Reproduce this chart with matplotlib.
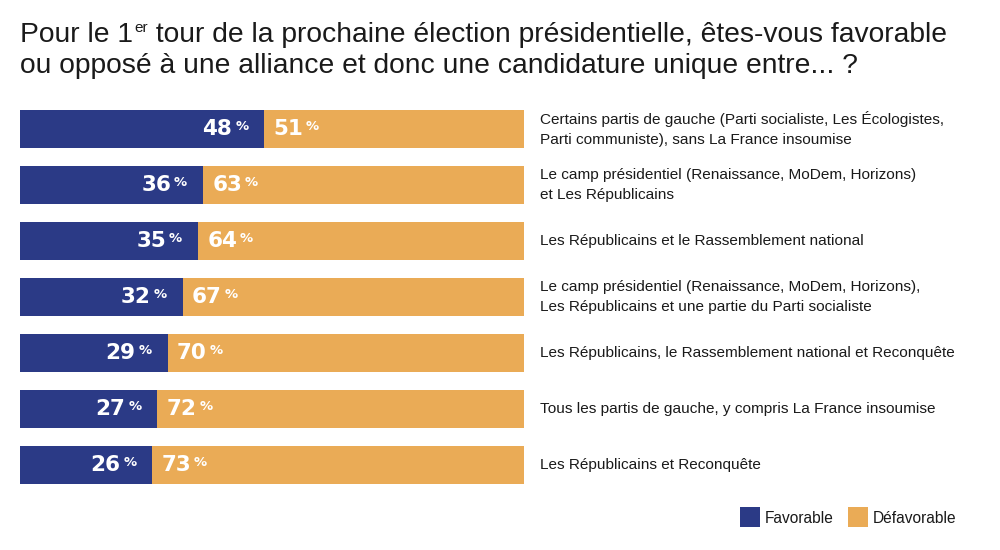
import matplotlib
matplotlib.use("Agg")
import matplotlib.pyplot as plt
from matplotlib.patches import Rectangle
from matplotlib import font_manager

names = sorted({f.name for f in font_manager.fontManager.ttflist})
NARROW = 'Liberation Sans Narrow' if 'Liberation Sans Narrow' in names else 'Liberation Sans'

categories = [
    "Certains partis de gauche (Parti socialiste, Les Écologistes,\nParti communiste), sans La France insoumise",
    "Le camp présidentiel (Renaissance, MoDem, Horizons)\net Les Républicains",
    "Les Républicains et le Rassemblement national",
    "Le camp présidentiel (Renaissance, MoDem, Horizons),\nLes Républicains et une partie du Parti socialiste",
    "Les Républicains, le Rassemblement national et Reconquête",
    "Tous les partis de gauche, y compris La France insoumise",
    "Les Républicains et Reconquête",
]
favorable = [48, 36, 35, 32, 29, 27, 26]
defavorable = [51, 63, 64, 67, 70, 72, 73]
series_names = ["Favorable", "Défavorable"]
title_parts = ["Pour le 1", "er", " tour de la prochaine élection présidentielle, êtes-vous favorable",
               "ou opposé à une alliance et donc une candidature unique entre... ?"]

BLUE = "#2b3a86"
ORANGE = "#eaab56"
TXT = "#1a1a1a"

W, H = 1000, 550
fig = plt.figure(figsize=(10, 5.5), dpi=100)
fig.patch.set_facecolor("white")
ax = fig.add_axes([20 / W, 1 - 493 / H, 504 / W, 392 / H])
ys = list(range(len(categories)))
ax.barh(ys, favorable, height=0.68, color=BLUE, linewidth=0)
ax.barh(ys, defavorable, left=favorable, height=0.68, color=ORANGE, linewidth=0)
ax.set_xlim(0, 99)
ax.set_ylim(len(categories) - 0.5, -0.5)
ax.axis("off")

numfont = dict(family="DejaVu Sans", weight="bold", color="white", fontsize=15.5)
pctfont = dict(family="DejaVu Sans", weight="bold", color="white", fontsize=9.5)
for y, f, d in zip(ys, favorable, defavorable):
    t = ax.annotate(str(f), xy=(f, y), xytext=(-23, 0), textcoords="offset points",
                    ha="right", va="center", **numfont)
    ax.annotate("%", xy=(1, 1), xycoords=t, xytext=(2, -1), textcoords="offset points",
                ha="left", va="top", **pctfont)
    t2 = ax.annotate(str(d), xy=(f, y), xytext=(6.5, 0), textcoords="offset points",
                     ha="left", va="center", **numfont)
    ax.annotate("%", xy=(1, 1), xycoords=t2, xytext=(2, -1), textcoords="offset points",
                ha="left", va="top", **pctfont)
    ax.annotate(categories[y], xy=(99, y), xytext=(11.5, 0), textcoords="offset points",
                ha="left", va="center", fontsize=11.1, family=NARROW, color=TXT,
                linespacing=1.55)

# title
tsize = 20.3
renderer = fig.canvas.get_renderer()
t1 = fig.text(20 / W, 1 - 42 / H, title_parts[0], fontsize=tsize, family=NARROW, color=TXT,
              ha="left", va="baseline")
x1 = t1.get_window_extent(renderer).x1
t1b = fig.text((x1 + 1) / W, 1 - 32 / H, title_parts[1], fontsize=11, family=NARROW, color=TXT,
               ha="left", va="baseline")
x2 = t1b.get_window_extent(renderer).x1
fig.text(x2 / W, 1 - 42 / H, title_parts[2], fontsize=tsize, family=NARROW, color=TXT,
         ha="left", va="baseline")
fig.text(20 / W, 1 - 73 / H, title_parts[3], fontsize=tsize, family=NARROW, color=TXT,
         ha="left", va="baseline")

# legend
for x0, col, name in [(740, BLUE, series_names[0]), (848, ORANGE, series_names[1])]:
    fig.patches.append(Rectangle((x0 / W, 1 - 527 / H), 20 / W, 20 / H,
                                 transform=fig.transFigure, facecolor=col, edgecolor="none"))
    fig.text((x0 + 25) / W, 1 - 523 / H, name, fontsize=11.2, family=NARROW,
             color=TXT, ha="left", va="baseline")

fig.savefig("out.png", dpi=100, facecolor="white")
